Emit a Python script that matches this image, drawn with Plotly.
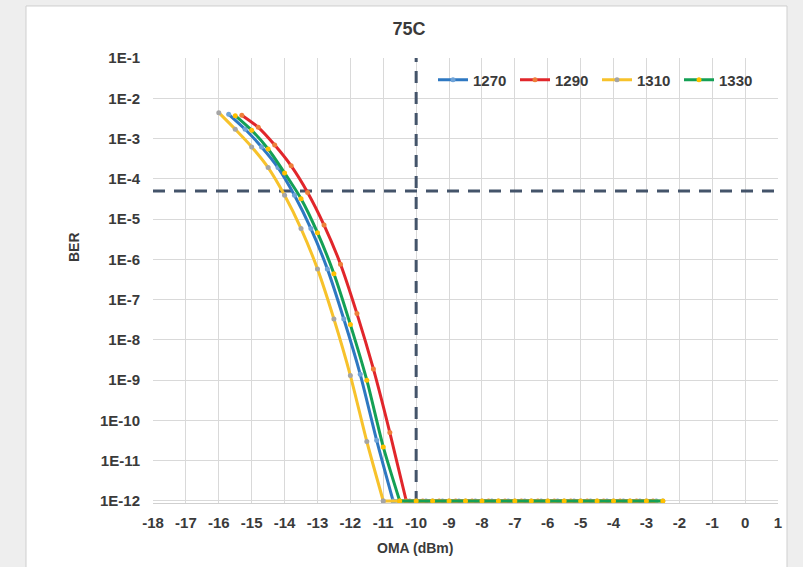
import plotly.graph_objects as go

# ---------------- data ----------------
oma_1270 = [-15.7, -15.2, -14.7, -14.2, -13.7, -13.2, -12.7, -12.2, -11.7, -11.2, -10.7,
            -10.2, -9.7, -9.2, -8.7, -8.2, -7.7, -7.2, -6.7, -6.2, -5.7, -5.2, -4.7, -4.2, -3.7, -3.2, -2.7]
ber_1270 = [4.0e-3, 1.7e-3, 6.2e-4, 1.9e-4, 3.9e-5, 5.8e-6, 5.8e-7, 3.3e-8, 1.4e-9, 3.2e-11, 1e-12,
            1e-12, 1e-12, 1e-12, 1e-12, 1e-12, 1e-12, 1e-12, 1e-12, 1e-12, 1e-12, 1e-12, 1e-12, 1e-12, 1e-12, 1e-12, 1e-12]

oma_1290 = [-15.3, -14.8, -14.3, -13.8, -13.3, -12.8, -12.3, -11.8, -11.3, -10.8, -10.3,
            -9.8, -9.3, -8.8, -8.3, -7.8, -7.3, -6.8, -6.3, -5.8, -5.3, -4.8, -4.3, -3.8, -3.3, -2.8]
ber_1290 = [3.8e-3, 1.9e-3, 6.9e-4, 2.1e-4, 4.6e-5, 7.1e-6, 7.6e-7, 4.5e-8, 1.9e-9, 5.0e-11, 1e-12,
            1e-12, 1e-12, 1e-12, 1e-12, 1e-12, 1e-12, 1e-12, 1e-12, 1e-12, 1e-12, 1e-12, 1e-12, 1e-12, 1e-12, 1e-12]

oma_1310 = [-16.0, -15.5, -15.0, -14.5, -14.0, -13.5, -13.0, -12.5, -12.0, -11.5, -11.0,
            -10.5, -10.0, -9.5, -9.0, -8.5, -8.0, -7.5, -7.0, -6.5, -6.0, -5.5, -5.0, -4.5, -4.0, -3.5, -3.0, -2.5]
ber_1310 = [4.4e-3, 1.7e-3, 6.2e-4, 1.9e-4, 3.9e-5, 5.8e-6, 5.8e-7, 3.3e-8, 1.3e-9, 3.0e-11, 1e-12,
            1e-12, 1e-12, 1e-12, 1e-12, 1e-12, 1e-12, 1e-12, 1e-12, 1e-12, 1e-12, 1e-12, 1e-12, 1e-12, 1e-12, 1e-12, 1e-12, 1e-12]

oma_1330 = [-15.5, -15.0, -14.5, -14.0, -13.5, -13.0, -12.5, -12.0, -11.5, -11.0, -10.5,
            -10.0, -9.5, -9.0, -8.5, -8.0, -7.5, -7.0, -6.5, -6.0, -5.5, -5.0, -4.5, -4.0, -3.5, -3.0, -2.5]
ber_1330 = [3.7e-3, 1.6e-3, 5.5e-4, 1.4e-4, 3.2e-5, 4.6e-6, 4.4e-7, 2.4e-8, 1.0e-9, 2.2e-11, 1e-12,
            1e-12, 1e-12, 1e-12, 1e-12, 1e-12, 1e-12, 1e-12, 1e-12, 1e-12, 1e-12, 1e-12, 1e-12, 1e-12, 1e-12, 1e-12, 1e-12]

ber_floor = 1e-12

series_names = ["1270", "1290", "1310", "1330"]
line_colors = ["#2E78C2", "#E1262B", "#F7C22B", "#14A055"]
marker_colors = ["#6FA3D8", "#EE7F3A", "#A5A5A5", "#FFC000"]

threshold_ber = 5e-5
threshold_oma = -10

x_ticks = list(range(-18, 2))
x_ticktext = ["-18", "-17", "-16", "-15", "-14", "-13", "-12", "-11", "-10", "-9",
              "-8", "-7", "-6", "-5", "-4", "-3", "-2", "-1", "0", "1"]
y_ticks = [1e-1, 1e-2, 1e-3, 1e-4, 1e-5, 1e-6, 1e-7, 1e-8, 1e-9, 1e-10, 1e-11, 1e-12]
y_ticktext = ["1E-1", "1E-2", "1E-3", "1E-4", "1E-5", "1E-6", "1E-7", "1E-8", "1E-9",
              "1E-10", "1E-11", "1E-12"]

FONT = "Liberation Sans, Arial, sans-serif"
TXT = "#3A3A3A"

fig = go.Figure()

# threshold dashed lines
dash_col = "#44546A"
fig.add_trace(go.Scatter(x=[-18, 1], y=[threshold_ber, threshold_ber], mode="lines",
                         line=dict(color=dash_col, width=3, dash="12px,9px"),
                         showlegend=False, hoverinfo="skip"))
fig.add_trace(go.Scatter(x=[threshold_oma, threshold_oma], y=[10 ** -12.05, 1e-1], mode="lines",
                         line=dict(color=dash_col, width=3, dash="12px,9px"),
                         showlegend=False, hoverinfo="skip"))

all_x = [oma_1270, oma_1290, oma_1310, oma_1330]
all_y = [ber_1270, ber_1290, ber_1310, ber_1330]
for name, xs, ys, lc, mc in zip(series_names, all_x, all_y, line_colors, marker_colors):
    k = ys.index(ber_floor)  # first point on the measurement floor
    # smoothed falling part
    fig.add_trace(go.Scatter(
        x=xs[:k + 1], y=ys[:k + 1], name=name, legendgroup=name, mode="lines+markers",
        line=dict(color=lc, width=3, shape="spline", smoothing=0.7),
        marker=dict(color=mc, size=5, line=dict(width=0)),
        cliponaxis=False,
    ))
    # flat floor part
    fig.add_trace(go.Scatter(
        x=xs[k:], y=ys[k:], name=name, legendgroup=name, mode="lines+markers",
        line=dict(color=lc, width=3),
        marker=dict(color=mc, size=5, line=dict(width=0)),
        cliponaxis=False, showlegend=False,
    ))

# chart frame (white panel on gray page)
fig.add_shape(type="rect", xref="paper", yref="paper",
              x0=-0.2032, x1=1.0144, y0=-0.16, y1=1.1169,
              fillcolor="white", line=dict(color="#cfcfcf", width=1), layer="below")

fig.update_layout(
    width=803, height=567,
    margin=dict(l=153, r=25, t=58, b=64),
    paper_bgcolor="#eeeeee",
    plot_bgcolor="white",
    font=dict(family=FONT, color=TXT, size=15),
    title=dict(text="<b>75C</b>", x=409 / 803, xanchor="center",
               y=1 - 29 / 567, yanchor="middle",
               font=dict(family=FONT, size=18, color=TXT)),
    legend=dict(orientation="h", x=0.448, xanchor="left", y=(503 - 80) / 445, yanchor="middle",
                bgcolor="rgba(0,0,0,0)",
                font=dict(family=FONT, size=15, color=TXT, weight="bold"),
                entrywidth=37, entrywidthmode="pixels", itemwidth=30, tracegroupgap=0),
    showlegend=True,
)

fig.update_xaxes(range=[-18, 1], tickvals=x_ticks, ticktext=x_ticktext,
                 showgrid=True, gridcolor="#d9d9d9", gridwidth=1,
                 zeroline=False, showline=True, linecolor="#d0d0d0", linewidth=1,
                 ticks="outside", ticklen=6, tickcolor="rgba(0,0,0,0)",
                 tickfont=dict(family=FONT, size=15, color=TXT, weight="bold"))
fig.update_yaxes(type="log", range=[-12.05, -1], tickvals=y_ticks, ticktext=y_ticktext,
                 showgrid=True, gridcolor="#d9d9d9", gridwidth=1,
                 zeroline=False, showline=False,
                 ticks="outside", ticklen=9, tickcolor="rgba(0,0,0,0)",
                 tickfont=dict(family=FONT, size=15, color=TXT, weight="bold"))

# axis titles placed to match reference
fig.add_annotation(text="<b>BER</b>", xref="paper", yref="paper",
                   x=(74 - 153) / 625, y=(503 - 247) / 445, textangle=-90,
                   xanchor="center", yanchor="middle",
                   showarrow=False, font=dict(family=FONT, size=14, color=TXT))
fig.add_annotation(text="<b>OMA (dBm)</b>", xref="paper", yref="paper",
                   x=(415 - 153) / 625, y=(503 - 548) / 445,
                   xanchor="center", yanchor="middle",
                   showarrow=False, font=dict(family=FONT, size=14, color=TXT))

fig.write_html("out.html", post_script="document.body.style.margin='0';",
               config={"displayModeBar": False})
